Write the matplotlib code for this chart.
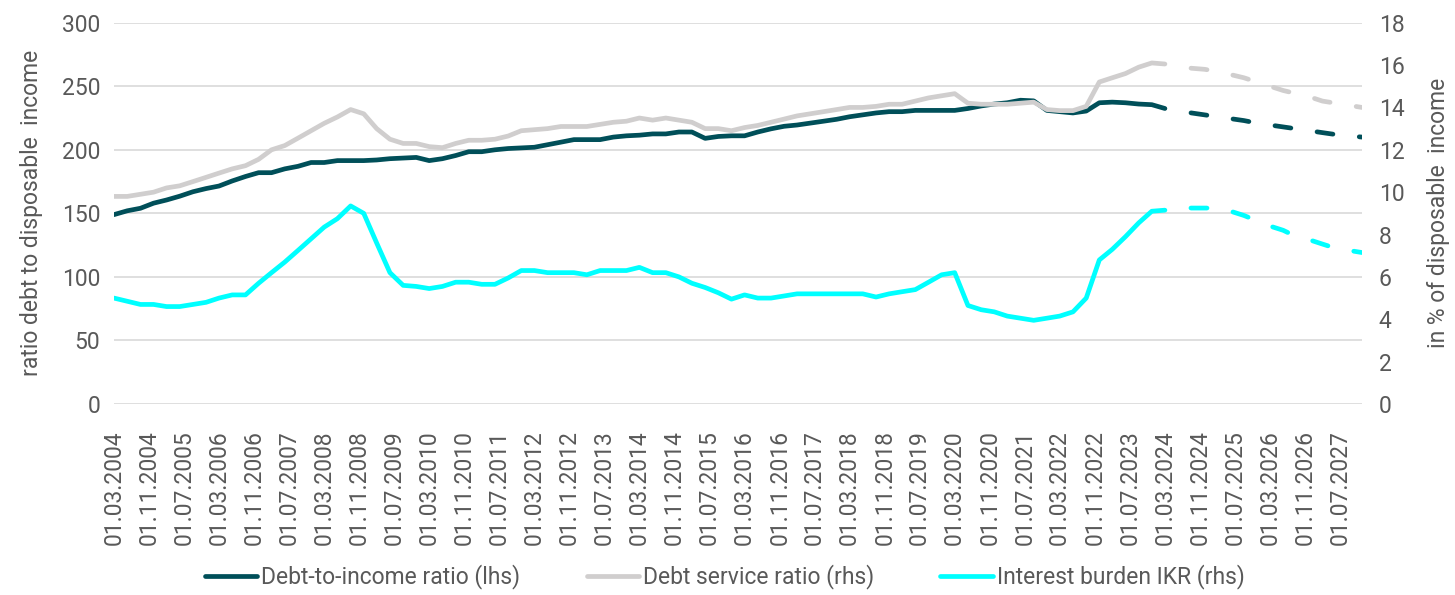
import numpy as np
import pandas as pd
import matplotlib
matplotlib.use('Agg')
import matplotlib.pyplot as plt
from matplotlib.lines import Line2D

plt.rcParams['font.family'] = ['Roboto', 'DejaVu Sans']

# quarterly observations 01.03.2004 .. 01.12.2027, projection after 01.03.2024
quarters = pd.date_range('2004-03-01', '2027-12-01', freq='3MS')
forecast_start = pd.Timestamp('2024-03-01')

# lhs, ratio debt to disposable income
debt_to_income = [
    149, 152, 154, 158, 160.5, 163.5, 167, 169.5,
    171.5, 175.5, 179, 182, 182, 185, 187, 190,
    190, 191.5, 191.5, 191.5, 192, 193, 193.5, 194,
    191.5, 193, 195.5, 198.5, 198.5, 200, 201, 201.5,
    202, 204, 206, 208, 208, 208, 210, 211,
    211.5, 212.5, 212.5, 214, 214, 209, 210.5, 211,
    211, 214, 216.5, 218.5, 219.5, 221, 222.5, 224,
    226, 227.5, 229, 230, 230, 231, 231, 231,
    231, 232.5, 234.5, 236, 237, 239, 238.5, 231,
    230, 229, 230.5, 237, 237.5, 237, 236, 235.5,
    232.5, 230.5, 229, 227.5, 226, 224.5, 223, 221,
    219.5, 218, 216.5, 215, 213.5, 212, 211, 210,
]

# rhs, in % of disposable income
debt_service = [
    9.8, 9.8, 9.9, 10.0, 10.2, 10.3, 10.5, 10.7,
    10.9, 11.1, 11.25, 11.55, 12.0, 12.2, 12.55, 12.9,
    13.25, 13.55, 13.9, 13.7, 13.0, 12.5, 12.3, 12.3,
    12.15, 12.1, 12.3, 12.45, 12.45, 12.5, 12.65, 12.9,
    12.95, 13.0, 13.1, 13.1, 13.1, 13.2, 13.3, 13.35,
    13.5, 13.4, 13.5, 13.4, 13.3, 13.0, 13.0, 12.9,
    13.05, 13.15, 13.3, 13.45, 13.6, 13.7, 13.8, 13.9,
    14.0, 14.0, 14.05, 14.15, 14.15, 14.3, 14.45, 14.55,
    14.65, 14.2, 14.15, 14.15, 14.15, 14.2, 14.25, 13.9,
    13.85, 13.85, 14.05, 15.2, 15.4, 15.6, 15.9, 16.1,
    16.05, 15.95, 15.85, 15.8, 15.7, 15.55, 15.4, 15.2,
    15.0, 14.8, 14.65, 14.5, 14.3, 14.2, 14.1, 14.0,
]

interest_burden = [
    5.0, 4.85, 4.7, 4.7, 4.6, 4.6, 4.7, 4.8,
    5.0, 5.15, 5.15, 5.7, 6.2, 6.7, 7.25, 7.8,
    8.35, 8.75, 9.35, 9.0, 7.6, 6.2, 5.6, 5.55,
    5.45, 5.55, 5.75, 5.75, 5.65, 5.65, 5.95, 6.3,
    6.3, 6.2, 6.2, 6.2, 6.1, 6.3, 6.3, 6.3,
    6.45, 6.2, 6.2, 6.0, 5.7, 5.5, 5.25, 4.95,
    5.15, 5.0, 5.0, 5.1, 5.2, 5.2, 5.2, 5.2,
    5.2, 5.2, 5.05, 5.2, 5.3, 5.4, 5.75, 6.1,
    6.2, 4.65, 4.45, 4.35, 4.15, 4.05, 3.95, 4.05,
    4.15, 4.35, 5.0, 6.8, 7.3, 7.9, 8.55, 9.1,
    9.15, 9.3, 9.25, 9.25, 9.25, 9.1, 8.9, 8.65,
    8.4, 8.2, 7.9, 7.75, 7.55, 7.35, 7.25, 7.15,
]

labels = ['Debt-to-income ratio (lhs)', 'Debt service ratio (rhs)',
          'Interest burden IKR (rhs)']
tick_dates = pd.date_range('2004-03-01', periods=36, freq='8MS')

DARK = '#004F59'
GREY = '#D0CECE'
CYAN = '#00FFFF'
TEXT = '#595959'
GRID = '#D9D9D9'
LW = 3.4
FS = 16.5
DASH = (3.4, (3.4, 5.6))  # offset puts the first stroke after a gap

fig = plt.figure(figsize=(14.55, 5.95), dpi=100)
ax = fig.add_axes([114 / 1455, 1 - 404 / 595, 1248 / 1455, 381.3 / 595])
ax2 = ax.twinx()

n_hist = int((quarters <= forecast_start).sum())


def draw(axis, values, color):
    v = np.asarray(values, dtype=float)
    axis.plot(quarters[:n_hist], v[:n_hist], color=color, lw=LW,
              solid_capstyle='round', solid_joinstyle='round')
    axis.plot(quarters[n_hist - 1:], v[n_hist - 1:], color=color, lw=LW,
              linestyle=DASH, dash_capstyle='round', dash_joinstyle='round')


draw(ax, debt_to_income, DARK)
draw(ax2, debt_service, GREY)
draw(ax2, interest_burden, CYAN)

ax.set_xlim(quarters[0], quarters[-1])
ax.set_ylim(0, 300)
ax.set_yticks(np.arange(0, 301, 50))
ax2.set_ylim(0, 18)
ax2.set_yticks(np.arange(0, 19, 2))

ax.set_xticks(tick_dates)
ax.set_xticklabels([d.strftime('%d.%m.%Y') for d in tick_dates], rotation=90)

ax.grid(axis='y', color=GRID, lw=1.2)
ax.set_axisbelow(True)
for a in (ax, ax2):
    for s in a.spines.values():
        s.set_visible(False)
    a.tick_params(length=0, labelsize=FS, labelcolor=TEXT)
ax.tick_params(axis='y', pad=10)
ax.tick_params(axis='x', pad=19)
ax2.tick_params(axis='y', pad=12)

ax.set_ylabel('ratio debt to disposable  income', fontsize=FS, color=TEXT)
ax.yaxis.set_label_coords(-0.057, 0.5)
ax2.set_ylabel('in % of disposable  income', fontsize=FS, color=TEXT)
ax2.yaxis.set_label_coords(1.052, 0.5)

handles = [Line2D([], [], color=c, lw=LW, solid_capstyle='round')
           for c in (DARK, GREY, CYAN)]
fig.legend(handles, labels, loc='center', bbox_to_anchor=(0.498, 1 - 577 / 595),
           ncol=3, frameon=False, fontsize=FS, labelcolor=TEXT,
           handlelength=2.3, handletextpad=0.15, columnspacing=2.9)

fig.savefig('out.png', dpi=100)
